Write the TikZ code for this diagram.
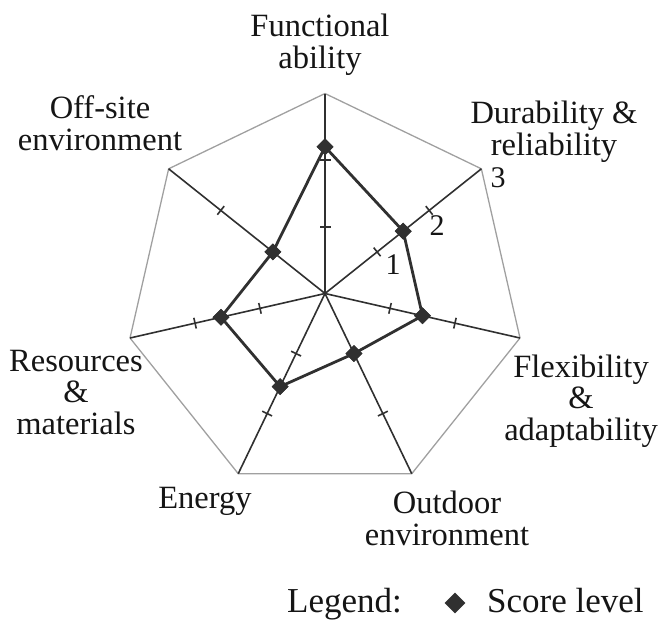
\documentclass[tikz,border=0pt]{standalone}
\usepackage{fontspec}
\setmainfont{Liberation Serif}
\usetikzlibrary{shapes.geometric}
\definecolor{axiscol}{HTML}{303030}
\definecolor{rimcol}{HTML}{A0A0A0}
\definecolor{txtcol}{HTML}{151515}
\begin{document}
\begin{tikzpicture}[x=1pt,y=-1pt,
  axisline/.style={draw=axiscol,line width=1.6pt},
  rimline/.style={draw=rimcol,line width=1.3pt},
  dataline/.style={draw=axiscol,line width=2.8pt,line join=round},
  marker/.style={diamond,fill=axiscol,inner sep=0pt,minimum size=17pt},
  lbl/.style={text=txtcol,font=\fontsize{32.5}{31.5}\selectfont,align=center,inner sep=0pt},
  ticklbl/.style={text=txtcol,font=\fontsize{30}{30}\selectfont,inner sep=0pt}]
\useasboundingbox (0,0) rectangle (659,619);
\def\cx{325}\def\cy{293.5}\def\R{200}
\coordinate (c) at (\cx,\cy);
\foreach \k in {0,...,6}{
  \coordinate (v\k) at ({\cx+\R*cos(90-\k*360/7)},{\cy-\R*sin(90-\k*360/7)});
}
% rim
\draw[rimline] (v0) -- (v1) -- (v2) -- (v3) -- (v4) -- (v5) -- (v6) -- cycle;
% axes and ticks
\foreach \k in {0,...,6}{
  \draw[axisline] (c) -- (v\k);
  \foreach \r in {66.7,133.3}{
    \draw[axiscol,line width=1.6pt]
      ({\cx+\r*cos(90-\k*360/7)+5.5*sin(90-\k*360/7)},{\cy-\r*sin(90-\k*360/7)+5.5*cos(90-\k*360/7)})
      -- ({\cx+\r*cos(90-\k*360/7)-5.5*sin(90-\k*360/7)},{\cy-\r*sin(90-\k*360/7)-5.5*cos(90-\k*360/7)});
  }
}
% data
\foreach \k/\v in {0/2.2,1/1.5,2/1.5,3/1.0,4/1.55,5/1.6,6/1.0}{
  \node[marker] (p\k) at ({\cx+\v*66.67*cos(90-\k*360/7)},{\cy-\v*66.67*sin(90-\k*360/7)}) {};
}
\draw[dataline] (p0.center) -- (p1.center) -- (p2.center) -- (p3.center) -- (p4.center) -- (p5.center) -- (p6.center) -- cycle;
\foreach \k in {0,...,6}{\node[marker] at (p\k) {};}
% scale labels
\node[ticklbl] (s1) at (393,265) {1};
\node[ticklbl] (s2) at (437,226) {2};
\node[ticklbl] (s3) at (498,178) {3};
% axis labels (anchor = baseline of last line)
\node[lbl,anchor=base] (l0) at (320,68) {Functional\\ability};
\node[lbl,anchor=base] (l1) at (554,155) {Durability \&\\reliability};
\node[lbl,anchor=base] (l2) at (581,440) {Flexibility\\\&\\adaptability};
\node[lbl,anchor=base] (l3) at (447,545) {Outdoor\\environment};
\node[lbl,anchor=base] (l4) at (205,508) {Energy};
\node[lbl,anchor=base] (l5) at (76,434) {Resources\\\&\\materials};
\node[lbl,anchor=base] (l6) at (100,150) {Off-site\\environment};
% legend
\node[lbl,font=\fontsize{35}{35}\selectfont,anchor=base west] (lg) at (287,612) {Legend:};
\node[marker,minimum size=21pt] (lgm) at (455,603) {};
\node[lbl,font=\fontsize{35}{35}\selectfont,anchor=base west] (lgt) at (487,612) {Score level};
\end{tikzpicture}
\end{document}
